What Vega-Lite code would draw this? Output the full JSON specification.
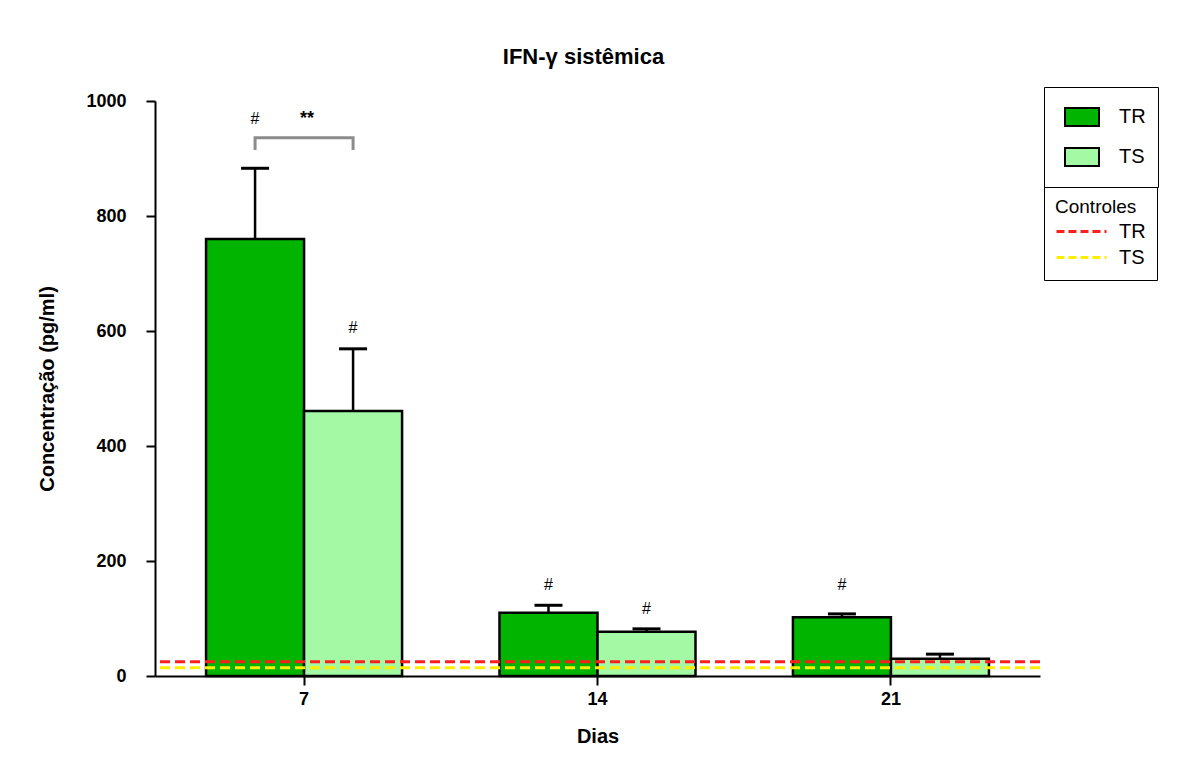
{
  "$schema": "https://vega.github.io/schema/vega-lite/v6.json",
  "width": 885,
  "height": 575,
  "autosize": {"type": "none"},
  "padding": {"left": 155, "top": 101, "right": 139, "bottom": 89},
  "background": "white",
  "config": {
    "font": "Liberation Sans",
    "view": {"stroke": null},
    "axis": {"grid": false, "domainColor": "black", "domainWidth": 2, "tickColor": "black", "tickWidth": 2, "tickSize": 9, "labelColor": "black", "titleColor": "black", "labelFontSize": 18, "labelFontWeight": "bold", "titleFontSize": 20, "titleFontWeight": "bold"}
  },
  "title": {"text": "IFN-γ sistêmica", "fontSize": 22, "fontWeight": "bold", "color": "black", "offset": 18, "dx": -14},
  "datasets": {
    "barras": [
      {"dia": "7", "grupo": "TR", "valor": 760, "erro": 883},
      {"dia": "7", "grupo": "TS", "valor": 461, "erro": 569},
      {"dia": "14", "grupo": "TR", "valor": 110, "erro": 123},
      {"dia": "14", "grupo": "TS", "valor": 77, "erro": 82},
      {"dia": "21", "grupo": "TR", "valor": 102, "erro": 108},
      {"dia": "21", "grupo": "TS", "valor": 30, "erro": 38}
    ],
    "controles": [
      {"controle": "Controle TR", "valor": 25},
      {"controle": "Controle TS", "valor": 14.5}
    ],
    "sinais": [
      {"dia": "7", "grupo": "TR", "y": 968, "rotulo": "#"},
      {"dia": "7", "grupo": "TS", "y": 605, "rotulo": "#"},
      {"dia": "14", "grupo": "TR", "y": 158, "rotulo": "#"},
      {"dia": "14", "grupo": "TS", "y": 117, "rotulo": "#"},
      {"dia": "21", "grupo": "TR", "y": 158, "rotulo": "#"}
    ],
    "estrelas": [
      {"dia": "7", "y": 968, "rotulo": "**"}
    ],
    "colchete": [
      {"dia": "7", "grupo": "TR", "y": 915, "i": 1},
      {"dia": "7", "grupo": "TR", "y": 936, "i": 2},
      {"dia": "7", "grupo": "TS", "y": 936, "i": 3},
      {"dia": "7", "grupo": "TS", "y": 915, "i": 4}
    ]
  },
  "layer": [
    {
      "data": {"name": "barras"},
      "mark": {"type": "bar", "stroke": "black", "strokeWidth": 2.5},
      "encoding": {
        "x": {"field": "dia", "type": "nominal", "sort": ["7", "14", "21"],
              "scale": {"paddingInner": 0.332, "paddingOuter": 0.174},
              "axis": {"title": "Dias", "labelAngle": 0, "labelPadding": 5, "titlePadding": 18}},
        "xOffset": {"field": "grupo", "type": "nominal", "scale": {"paddingInner": 0, "paddingOuter": 0}},
        "y": {"field": "valor", "type": "quantitative", "scale": {"domain": [0, 1000], "nice": false},
              "axis": {"title": "Concentração (pg/ml)", "values": [0, 200, 400, 600, 800, 1000], "format": "d", "labelPadding": 20, "titlePadding": 28}},
        "fill": {"field": "grupo", "type": "nominal",
                 "scale": {"domain": ["TR", "TS"], "range": ["#00b400", "#a4f9a4"]},
                 "legend": {"title": null, "orient": "none", "legendX": 889, "legendY": -14,
                            "symbolType": "M-0.68,-0.36H0.68V0.36H-0.68Z", "symbolSize": 2500,
                            "symbolStrokeColor": "black", "symbolStrokeWidth": 2,
                            "labelFontSize": 20, "labelColor": "black", "labelOffset": 11,
                            "strokeColor": "black", "padding": 12, "rowPadding": 4, "clipHeight": 36}}
      }
    },
    {
      "data": {"name": "barras"},
      "mark": {"type": "rule", "color": "black", "strokeWidth": 2.5},
      "encoding": {
        "x": {"field": "dia", "type": "nominal", "sort": ["7", "14", "21"]},
        "xOffset": {"field": "grupo", "type": "nominal"},
        "y": {"field": "valor", "type": "quantitative"},
        "y2": {"field": "erro"}
      }
    },
    {
      "data": {"name": "barras"},
      "mark": {"type": "tick", "color": "black", "opacity": 1, "size": 28, "thickness": 3, "orient": "horizontal"},
      "encoding": {
        "x": {"field": "dia", "type": "nominal", "sort": ["7", "14", "21"]},
        "xOffset": {"field": "grupo", "type": "nominal"},
        "y": {"field": "erro", "type": "quantitative"}
      }
    },
    {
      "data": {"name": "controles"},
      "mark": {"type": "rule", "strokeWidth": 3, "strokeDash": [10, 5]},
      "encoding": {
        "y": {"field": "valor", "type": "quantitative"},
        "stroke": {"field": "controle", "type": "nominal",
                   "scale": {"domain": ["Controle TR", "Controle TS"], "range": ["#ff1e1e", "#ffee00"]},
                   "legend": {"title": "Controles", "orient": "none", "legendX": 889, "legendY": 86,
                              "labelExpr": "replace(datum.label, 'Controle ', '')",
                              "symbolType": "stroke", "symbolSize": 2500, "symbolStrokeWidth": 3, "symbolDash": [8, 4],
                              "titleFontSize": 19, "titleFontWeight": "normal", "titleColor": "black", "titlePadding": 3,
                              "labelFontSize": 20, "labelColor": "black", "labelOffset": 11,
                              "strokeColor": "black", "padding": 11, "rowPadding": 3, "clipHeight": 23}}
      }
    },
    {
      "data": {"name": "colchete"},
      "mark": {"type": "line", "color": "#8c8c8c", "strokeWidth": 3},
      "encoding": {
        "x": {"field": "dia", "type": "nominal", "sort": ["7", "14", "21"]},
        "xOffset": {"field": "grupo", "type": "nominal"},
        "y": {"field": "y", "type": "quantitative"},
        "order": {"field": "i"}
      }
    },
    {
      "data": {"name": "sinais"},
      "mark": {"type": "text", "fontSize": 16, "color": "black", "baseline": "middle"},
      "encoding": {
        "x": {"field": "dia", "type": "nominal", "sort": ["7", "14", "21"]},
        "xOffset": {"field": "grupo", "type": "nominal"},
        "y": {"field": "y", "type": "quantitative"},
        "text": {"field": "rotulo"}
      }
    },
    {
      "data": {"name": "estrelas"},
      "mark": {"type": "text", "fontSize": 18, "fontWeight": "bold", "color": "black", "baseline": "middle", "dx": 3},
      "encoding": {
        "x": {"field": "dia", "type": "nominal", "sort": ["7", "14", "21"]},
        "y": {"field": "y", "type": "quantitative"},
        "text": {"field": "rotulo"}
      }
    }
  ]
}
